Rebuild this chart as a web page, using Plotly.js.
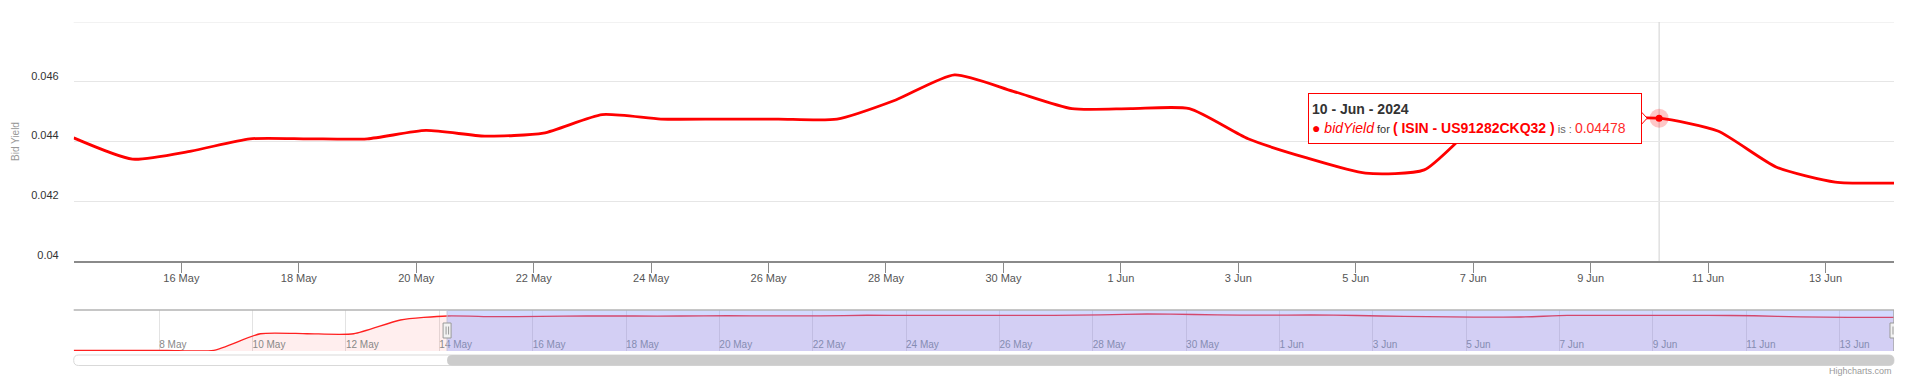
<!DOCTYPE html>
<html>
<head>
<meta charset="utf-8">
<script src="https://cdn.plot.ly/plotly-3.0.1.min.js"></script>
<style>html,body{margin:0;padding:0;background:#fff;}#chart{width:1920px;height:387px;}</style>
</head>
<body>
<div id="chart"></div>
<script>
// ---- data ----
const mainDates = [
  '2024-05-14 04:00','2024-05-15 04:00','2024-05-16 04:00','2024-05-17 04:00','2024-05-18 04:00',
  '2024-05-19 04:00','2024-05-20 04:00','2024-05-21 04:00','2024-05-22 04:00','2024-05-23 04:00',
  '2024-05-24 04:00','2024-05-25 04:00','2024-05-26 04:00','2024-05-27 04:00','2024-05-28 04:00',
  '2024-05-29 04:00','2024-05-30 04:00','2024-05-31 04:00','2024-06-01 04:00','2024-06-02 04:00',
  '2024-06-03 04:00','2024-06-04 04:00','2024-06-05 04:00','2024-06-06 04:00','2024-06-07 04:00',
  '2024-06-08 04:00','2024-06-09 04:00','2024-06-10 04:00','2024-06-11 04:00','2024-06-12 04:00',
  '2024-06-13 04:00','2024-06-14 04:00'
];
const mainValues = [
  0.04412,0.04341,0.04368,0.04409,0.04409,
  0.04409,0.04437,0.04418,0.04428,0.04490,
  0.04475,0.04475,0.04475,0.04475,0.04539,
  0.04623,0.04568,0.04510,0.04510,0.04510,
  0.04409,0.04345,0.04294,0.04305,0.04470,
  0.04475,0.04476,0.04478,0.04435,0.04314,
  0.04264,0.04261
];
const earlyDates = [
  '2024-05-06 04:00','2024-05-07 04:00','2024-05-08 04:00','2024-05-09 04:00',
  '2024-05-10 04:00','2024-05-11 04:00','2024-05-12 04:00','2024-05-13 04:00'
];
const earlyValues = [0.0081,0.0081,0.0081,0.0081,0.0255,0.0255,0.0255,0.0399];

const mainTickVals = ['2024-05-16','2024-05-18','2024-05-20','2024-05-22','2024-05-24','2024-05-26',
  '2024-05-28','2024-05-30','2024-06-01','2024-06-03','2024-06-05','2024-06-07','2024-06-09',
  '2024-06-11','2024-06-13'];
const mainTickText = ['16 May','18 May','20 May','22 May','24 May','26 May','28 May','30 May',
  '1 Jun','3 Jun','5 Jun','7 Jun','9 Jun','11 Jun','13 Jun'];
const navTickVals = ['2024-05-08','2024-05-10','2024-05-12','2024-05-14'].concat(mainTickVals);
const navTickText = ['8 May','10 May','12 May','14 May'].concat(mainTickText);
const yTickVals = [0.04,0.042,0.044,0.046,0.048];
const yTickText = ['0.04','0.042','0.044','0.046',''];

const tooltipDate = '2024-06-10 04:00';
const seriesName = 'bidYield';
const isin = 'US91282CKQ32';

// ---- layout constants ----
const W = 1920, H = 387;
const L = 73.7 / W, R = 1894 / W;
const mainY = [1 - 261 / H, 1 - 22 / H];
const navY = [1 - 351 / H, 1 - 310 / H];
const FONT = 'Liberation Sans, Arial, Helvetica, sans-serif';

const navDates = earlyDates.concat(mainDates);
const navValues = earlyValues.concat(mainValues);
const toMs = s => Date.parse(s.replace(' ', 'T') + ':00Z');
const navStart = navDates[0], navEnd = navDates[navDates.length - 1];
const selStart = mainDates[0], selEnd = mainDates[mainDates.length - 1];
const selFrac = (toMs(selStart) - toMs(navStart)) / (toMs(navEnd) - toMs(navStart));
const selPaper = L + selFrac * (R - L);

const ti = mainDates.indexOf(tooltipDate);
const tipX = mainDates[ti], tipY = mainValues[ti];

function roundRect(x0, x1, y0px, y1px, r) {
  const y0 = 1 - y1px / H, y1 = 1 - y0px / H;
  const rx = r / W, ry = r / H;
  return `M ${x0 + rx},${y0} L ${x1 - rx},${y0} Q ${x1},${y0} ${x1},${y0 + ry} L ${x1},${y1 - ry} Q ${x1},${y1} ${x1 - rx},${y1} L ${x0 + rx},${y1} Q ${x0},${y1} ${x0},${y1 - ry} L ${x0},${y0 + ry} Q ${x0},${y0} ${x0 + rx},${y0} Z`;
}

const traces = [
  {
    x: navDates, y: navValues, xaxis: 'x2', yaxis: 'y2', type: 'scatter', mode: 'lines',
    line: {color: '#ff2020', width: 1.3, shape: 'spline', smoothing: 0.6},
    fill: 'tozeroy', fillcolor: 'rgba(255,0,0,0.065)', hoverinfo: 'skip'
  },
  {
    x: mainDates, y: mainValues, xaxis: 'x', yaxis: 'y', type: 'scatter', mode: 'lines',
    line: {color: '#ff0000', width: 2.8, shape: 'spline', smoothing: 0.6}, hoverinfo: 'skip'
  },
  {
    x: [tipX], y: [tipY], xaxis: 'x', yaxis: 'y', type: 'scatter', mode: 'markers',
    marker: {size: 19, color: 'rgba(255,0,0,0.22)'}, hoverinfo: 'skip'
  },
  {
    x: [tipX], y: [tipY], xaxis: 'x', yaxis: 'y', type: 'scatter', mode: 'markers',
    marker: {size: 7, color: '#ff0000'}, hoverinfo: 'skip'
  }
];

const handle = (anchor) => [
  {type: 'rect', xref: 'x2', xsizemode: 'pixel', xanchor: anchor, x0: -4, x1: 4,
   yref: 'paper', ysizemode: 'pixel', yanchor: 1 - 330.5 / H, y0: -7.5, y1: 7.5,
   fillcolor: '#f2f2f2', line: {color: '#999', width: 1}, layer: 'above'},
  {type: 'line', xref: 'x2', xsizemode: 'pixel', xanchor: anchor, x0: -1, x1: -1,
   yref: 'paper', ysizemode: 'pixel', yanchor: 1 - 330.5 / H, y0: -4, y1: 4,
   line: {color: '#999', width: 1}, layer: 'above'},
  {type: 'line', xref: 'x2', xsizemode: 'pixel', xanchor: anchor, x0: 1.5, x1: 1.5,
   yref: 'paper', ysizemode: 'pixel', yanchor: 1 - 330.5 / H, y0: -4, y1: 4,
   line: {color: '#999', width: 1}, layer: 'above'}
];

const shapes = [
  // top gridline (0.048)
  {type: 'line', xref: 'paper', yref: 'y', x0: L, x1: R, y0: 0.048, y1: 0.048,
   line: {color: '#e6e6e6', width: 1}, layer: 'below'},
  // crosshair
  {type: 'line', xref: 'x', yref: 'y', x0: tipX, x1: tipX, y0: 0.04, y1: 0.048,
   line: {color: '#d0d0d0', width: 1}, layer: 'below'},
  // navigator mask
  {type: 'rect', xref: 'x2', yref: 'paper', x0: selStart, x1: selEnd, y0: navY[0], y1: navY[1],
   fillcolor: 'rgba(129,150,255,0.35)', line: {width: 0}, layer: 'above'},
  // navigator outline
  {type: 'line', xref: 'paper', yref: 'paper', x0: L, x1: R, y0: navY[1], y1: navY[1],
   line: {color: '#b3b3b3', width: 1.5}, layer: 'above'},
  {type: 'line', xref: 'x2', yref: 'paper', x0: selStart, x1: selStart, y0: navY[0], y1: navY[1],
   line: {color: '#c4c4d8', width: 1}, layer: 'above'},
  {type: 'line', xref: 'x2', yref: 'paper', x0: selEnd, x1: selEnd, y0: navY[0], y1: navY[1],
   line: {color: '#a8a8a8', width: 1.5}, layer: 'above'},
  // scrollbar track + thumb
  {type: 'path', xref: 'paper', yref: 'paper', path: roundRect(L, R, 355, 365.5, 5),
   fillcolor: '#ffffff', line: {color: '#d9d9d9', width: 1}, layer: 'above'},
  {type: 'path', xref: 'paper', yref: 'paper', path: roundRect(selPaper, R, 355, 365.5, 5),
   fillcolor: '#cccccc', line: {width: 0}, layer: 'above'},
  // tooltip notch
  {type: 'path', xref: 'x', yref: 'y', xsizemode: 'pixel', ysizemode: 'pixel',
   xanchor: tipX, yanchor: tipY, path: 'M -17.5,-6 L -12,0 L -17.5,6',
   fillcolor: '#ffffff', line: {color: '#ff0000', width: 1}, layer: 'above'}
].concat(handle(selStart), handle(selEnd));

const tipText =
  '<b>10 - Jun - 2024</b><br>' +
  '<span style="color:#ff0000">●</span> ' +
  '<span style="color:#ff0000"><i>' + seriesName + '</i></span>' +
  '<span style="font-size:11px;color:#333"> for </span>' +
  '<span style="color:#ff0000"><b>( ISIN - ' + isin + ' )</b></span>' +
  '<span style="font-size:11px;color:#666"> is : </span>' +
  '<span style="color:#ff2a2a">' + tipY.toFixed(5) + '</span>';

const annotations = [
  {text: 'Bid Yield', xref: 'paper', yref: 'paper', x: 15.5 / W, y: (mainY[0] + mainY[1]) / 2,
   textangle: -90, showarrow: false, xanchor: 'center', yanchor: 'middle',
   font: {family: FONT, size: 10, color: '#999'}},
  {text: tipText, xref: 'x', yref: 'y', x: tipX, y: tipY, xanchor: 'right', yanchor: 'middle',
   xshift: -17, showarrow: false, align: 'left', valign: 'middle',
   width: 326, height: 43, borderpad: 3,
   bgcolor: '#ffffff', bordercolor: '#ff0000', borderwidth: 1,
   font: {family: FONT, size: 14, color: '#333333'}},
  {text: 'Highcharts.com', xref: 'paper', yref: 'paper', x: R, y: 1 - 371 / H,
   xanchor: 'right', yanchor: 'middle', showarrow: false,
   font: {family: FONT, size: 9, color: '#999'}}
];

const layout = {
  width: W, height: H, margin: {l: 0, r: 0, t: 0, b: 0},
  paper_bgcolor: '#ffffff', plot_bgcolor: 'rgba(0,0,0,0)', showlegend: false,
  font: {family: FONT},
  xaxis: {
    domain: [L, R], anchor: 'y', type: 'date', range: [selStart, selEnd],
    tickmode: 'array', tickvals: mainTickVals, ticktext: mainTickText,
    ticks: 'outside', ticklen: 10, tickwidth: 1, tickcolor: '#8a8a8a',
    showline: true, linecolor: '#8a8a8a', linewidth: 2, showgrid: false, zeroline: false,
    tickfont: {family: FONT, size: 11, color: '#555'}, ticklabelstandoff: -4, fixedrange: true
  },
  yaxis: {
    domain: mainY, anchor: 'x', range: [0.04, 0.048],
    tickmode: 'array', tickvals: yTickVals, ticktext: yTickText,
    ticks: '', showgrid: true, gridcolor: '#e6e6e6', gridwidth: 1, zeroline: false, showline: false,
    tickfont: {family: FONT, size: 11, color: '#333'}, ticklabelshift: -6, ticklabelstandoff: 14,
    fixedrange: true
  },
  xaxis2: {
    domain: [L, R], anchor: 'y2', type: 'date', range: [navStart, navEnd],
    tickmode: 'array', tickvals: navTickVals, ticktext: navTickText,
    ticks: '', showgrid: true, gridcolor: '#e3e3e3', gridwidth: 1, zeroline: false, showline: false,
    ticklabelposition: 'inside right', ticklabelstandoff: -5,
    tickfont: {family: FONT, size: 10, color: '#888'},
    fixedrange: true
  },
  yaxis2: {
    domain: navY, anchor: 'x2', range: [0.0074, 0.0504],
    showgrid: false, showticklabels: false, zeroline: false, showline: false, ticks: '',
    fixedrange: true
  },
  shapes: shapes,
  annotations: annotations
};

Plotly.newPlot('chart', traces, layout, {displayModeBar: false, staticPlot: true});
</script>
</body>
</html>
